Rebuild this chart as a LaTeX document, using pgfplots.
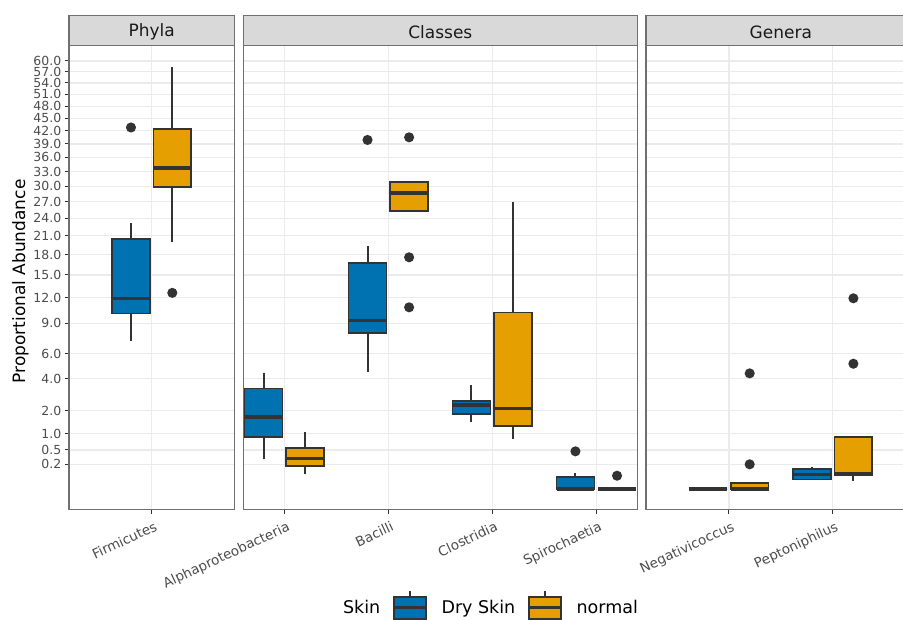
\documentclass[border=0pt]{standalone}
\usepackage{pgfplots}
\pgfplotsset{compat=1.18}
\usepgfplotslibrary{statistics}
\usepackage{fontspec}
\setmainfont{DejaVu Sans}

\definecolor{dry}{HTML}{0072B2}
\definecolor{nrm}{HTML}{E69F00}
\definecolor{ink}{HTML}{333333}
\definecolor{gridc}{HTML}{EBEBEB}
\definecolor{stripbg}{HTML}{D9D9D9}
\definecolor{ticklab}{HTML}{4D4D4D}
\definecolor{frame}{HTML}{707070}
\definecolor{titlec}{HTML}{1A1A1A}

\pgfplotsset{
  facet/.style={
    scale only axis, height=464pt,
    ymin=-0.1347, ymax=64.47,
    % square-root scale on y (empty input left empty)
    y coord trafo/.code={\edef\sqarg{##1}\ifx\sqarg\empty\let\pgfmathresult\empty
      \else\pgfmathparse{(\sqarg<0?-1:1)*sqrt(abs(\sqarg))}\fi},
    y coord inv trafo/.code={\pgfmathparse{##1*abs(##1)}},
    ytick={0.2,0.5,1,2,4,6,9,12,15,18,21,24,27,30,33,36,39,42,45,48,51,54,57,60},
    yticklabels={0.2,0.5,1.0,2.0,4.0,6.0,9.0,12.0,15.0,18.0,21.0,24.0,27.0,30.0,33.0,36.0,39.0,42.0,45.0,48.0,51.0,54.0,57.0,60.0},
    xtick pos=left, ytick pos=left,
    tick align=outside, major tick length=4.5pt,
    tick style={ink, line width=1pt},
    grid=major, major grid style={gridc, line width=1.2pt},
    axis line style={frame, line width=1.1pt},
    yticklabel style={ticklab, font=\fontsize{12.5}{14}\selectfont, inner sep=3pt},
    xticklabel style={ticklab, font=\fontsize{13.5}{15}\selectfont,
      rotate=25, anchor=north east, inner sep=1pt, yshift=-6pt},
    boxplot/draw direction=y,
    clip=false,
  },
  inner/.style={facet, yticklabels={}, ytick style={draw=none}},
  bx/.style={forget plot, draw=ink, line width=1.6pt,
    mark=*, mark size=4.2pt, mark options={draw=none, fill=ink},
    % plain whiskers without caps
    boxplot/draw/lower whisker/.code={\draw[ink, line width=2pt]
      (boxplot cs:\pgfplotsboxplotvalue{lower whisker}) --
      (boxplot cs:\pgfplotsboxplotvalue{lower quartile});},
    boxplot/draw/upper whisker/.code={\draw[ink, line width=2pt]
      (boxplot cs:\pgfplotsboxplotvalue{upper whisker}) --
      (boxplot cs:\pgfplotsboxplotvalue{upper quartile});},
    boxplot/every median/.style={line width=3.6pt}},
  drybox/.style={bx, fill=dry},
  nrmbox/.style={bx, fill=nrm},
  drykey/.style={legend image code/.code={
      \draw[ink, line width=1.6pt] (16pt,11pt) -- (16pt,17pt);
      \draw[ink, line width=1.6pt] (16pt,-11pt) -- (16pt,-17pt);
      \draw[ink, fill=dry, line width=1.6pt] (0pt,-11pt) rectangle (32pt,11pt);
      \draw[ink, line width=2.8pt] (0pt,0pt) -- (32pt,0pt);}},
  nrmkey/.style={legend image code/.code={
      \draw[ink, line width=1.6pt] (16pt,11pt) -- (16pt,17pt);
      \draw[ink, line width=1.6pt] (16pt,-11pt) -- (16pt,-17pt);
      \draw[ink, fill=nrm, line width=1.6pt] (0pt,-11pt) rectangle (32pt,11pt);
      \draw[ink, line width=2.8pt] (0pt,0pt) -- (32pt,0pt);}},
}

\begin{document}
\begin{tikzpicture}[x=1pt,y=1pt]
\useasboundingbox (0,0) rectangle (903,619);

% ---------------- Phyla ----------------
\begin{axis}[facet, at={(69pt,109.7pt)}, anchor=south west, width=165.3pt,
  xmin=-0.4, xmax=0.4, xtick={0}, xticklabels={Firmicutes},
  ylabel={Proportional Abundance},
  every axis y label/.style={at={(axis description cs:-0.2934,0.491)}, rotate=90, anchor=center,
    font=\fontsize{17}{20}\selectfont, text=black},
  legend columns=-1,
  legend style={at={(axis description cs:1.572,-0.2121)}, anchor=west, draw=none, fill=none,
    inner sep=0pt, font=\fontsize{17.5}{20}\selectfont,
    /tikz/every odd column/.append style={column sep=12pt},
    /tikz/every even column/.append style={column sep=10.5pt}},
]
\addplot[drybox, boxplot prepared={draw position=-0.1, box extend=0.1825,
  lower whisker=7.2, lower quartile=10.1, median=11.9, upper quartile=20.5, upper whisker=23.1}]
  table[row sep=\\, y index=0] {42.8\\};
\addplot[nrmbox, boxplot prepared={draw position=0.1, box extend=0.1825,
  lower whisker=19.9, lower quartile=29.9, median=33.7, upper quartile=42.4, upper whisker=58.2}]
  table[row sep=\\, y index=0] {12.6\\};
\addlegendimage{empty legend}\addlegendentry{Skin}
\addlegendimage{drykey}\addlegendentry{Dry Skin}
\addlegendimage{nrmkey}\addlegendentry{normal}
\end{axis}

% ---------------- Classes ----------------
\begin{axis}[inner, at={(243.3pt,109.7pt)}, anchor=south west, width=394pt,
  xmin=-0.395, xmax=3.395, xtick={0,1,2,3},
  xticklabels={Alphaproteobacteria,Bacilli,Clostridia,Spirochaetia}]
% Alphaproteobacteria
\addplot[drybox, boxplot prepared={draw position=-0.2, box extend=0.3636,
  lower whisker=0.295, lower quartile=0.885, median=1.71, upper quartile=3.32, upper whisker=4.41}]
  coordinates {};
\addplot[nrmbox, boxplot prepared={draw position=0.2, box extend=0.3636,
  lower whisker=0.071, lower quartile=0.178, median=0.301, upper quartile=0.559, upper whisker=1.053}]
  coordinates {};
% Bacilli
\addplot[drybox, boxplot prepared={draw position=0.8, box extend=0.3636,
  lower whisker=4.51, lower quartile=7.97, median=9.32, upper quartile=16.77, upper whisker=19.26}]
  table[row sep=\\, y index=0] {39.9\\};
\addplot[nrmbox, boxplot prepared={draw position=1.2, box extend=0.3636,
  lower whisker=25.31, lower quartile=25.31, median=28.75, upper quartile=30.87, upper whisker=30.87}]
  table[row sep=\\, y index=0] {40.5\\ 17.58\\ 10.81\\};
% Clostridia
\addplot[drybox, boxplot prepared={draw position=1.8, box extend=0.3636,
  lower whisker=1.47, lower quartile=1.84, median=2.31, upper quartile=2.52, upper whisker=3.52}]
  coordinates {};
\addplot[nrmbox, boxplot prepared={draw position=2.2, box extend=0.3636,
  lower whisker=0.819, lower quartile=1.30, median=2.13, upper quartile=10.18, upper whisker=26.97}]
  coordinates {};
% Spirochaetia
\addplot[drybox, boxplot prepared={draw position=2.8, box extend=0.3636,
  lower whisker=0, lower quartile=0, median=0, upper quartile=0.047, upper whisker=0.081}]
  table[row sep=\\, y index=0] {0.465\\};
\addplot[nrmbox, boxplot prepared={draw position=3.2, box extend=0.3636,
  lower whisker=0, lower quartile=0, median=0, upper quartile=0, upper whisker=0}]
  table[row sep=\\, y index=0] {0.058\\};
\end{axis}

% ---------------- Genera ----------------
\begin{axis}[inner, at={(646pt,109.7pt)}, anchor=south west, width=269.6pt,
  xmin=-0.8, xmax=1.8, xtick={0,1},
  xticklabels={Negativicoccus,Peptoniphilus}]
% Negativicoccus
\addplot[drybox, boxplot prepared={draw position=-0.2, box extend=0.3636,
  lower whisker=0, lower quartile=0, median=0, upper quartile=0, upper whisker=0}]
  coordinates {};
\addplot[nrmbox, boxplot prepared={draw position=0.2, box extend=0.3636,
  lower whisker=0, lower quartile=0, median=0, upper quartile=0.0118, upper whisker=0.0118}]
  table[row sep=\\, y index=0] {4.38\\ 0.2\\};
% Peptoniphilus
\addplot[drybox, boxplot prepared={draw position=0.8, box extend=0.3636,
  lower whisker=0.0300, lower quartile=0.0308, median=0.0707, upper quartile=0.131, upper whisker=0.163}]
  coordinates {};
\addplot[nrmbox, boxplot prepared={draw position=1.2, box extend=0.3636,
  lower whisker=0.0226, lower quartile=0.0615, median=0.0767, upper quartile=0.896, upper whisker=0.896}]
  table[row sep=\\, y index=0] {11.91\\ 5.14\\};
\end{axis}

% ---------------- facet strips ----------------
\begin{scope}[every node/.style={text=titlec, font=\fontsize{17}{20}\selectfont}]
\draw[fill=stripbg, draw=frame, line width=1.1pt] (69,573.7) rectangle (234.3,603.7);
\node at (151.65,586.7) {Phyla};
\draw[fill=stripbg, draw=frame, line width=1.1pt] (243.3,573.7) rectangle (637.3,603.7);
\node at (440.3,586.7) {Classes};
\draw[fill=stripbg, draw=frame, line width=1.1pt] (646,573.7) rectangle (915.6,603.7);
\node at (780.8,586.7) {Genera};
\end{scope}
\end{tikzpicture}
\end{document}
